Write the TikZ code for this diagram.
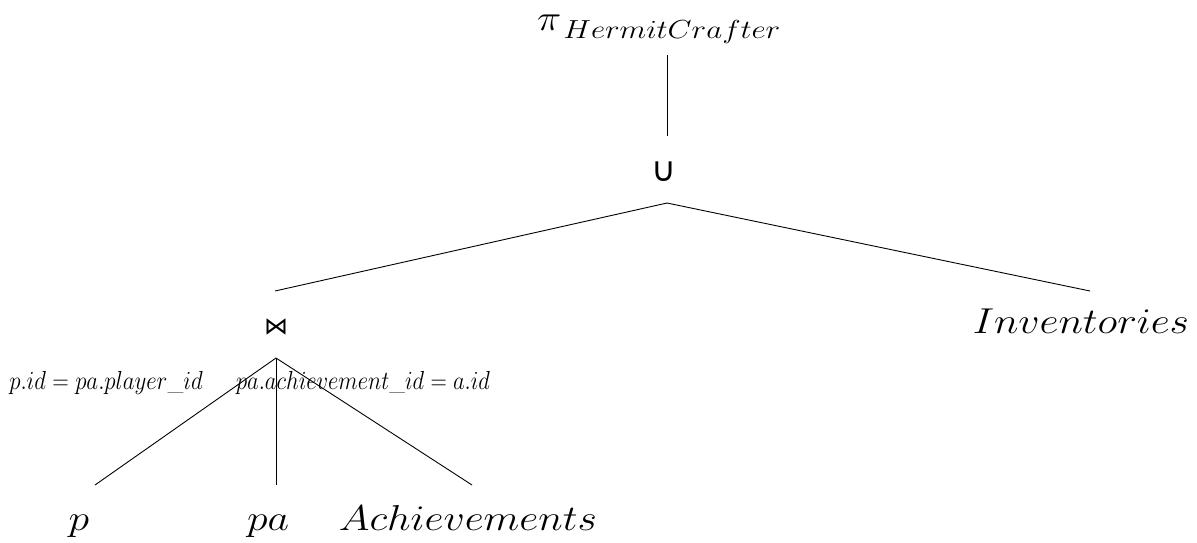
\RequirePackage{fix-cm}
\documentclass[tikz,border=0pt]{standalone}
\usepackage{fontspec}
\newfontfamily\djv{DejaVu Sans}
\begin{document}
\begin{tikzpicture}[x=1pt,y=-1pt,
  edge/.style={draw, line width=0.9pt},
  big/.style={font=\fontsize{36}{42}\selectfont, inner sep=0pt, anchor=base},
  cond/.style={font=\fontsize{24.88}{30}\selectfont, inner sep=0pt, anchor=base}]
\useasboundingbox (0,0) rectangle (1197,542);
\node[anchor=base west, inner sep=0pt, font=\fontsize{24.88}{30}\selectfont] (pi) at (537,30)
  {\scalebox{1.65}[1.45]{$\pi$}\hspace{2pt}\raisebox{-8pt}{\scalebox{1.25}[1.05]{$HermitCrafter$}}};
\node[inner sep=0pt, font=\fontsize{34}{38}\djv] (un) at (664,172) {∪};
\node[inner sep=0pt, font=\fontsize{24}{28}\djv] (jn) at (276,327) {⋈};
\node[big] (inv) at (1081,333) {\scalebox{1.16}[1]{$Inventories$}};
\node[big] (p) at (79,530) {\scalebox{1.16}[1]{$p$}};
\node[big] (pa) at (268,530) {\scalebox{1.16}[1]{$pa$}};
\node[big] (ach) at (468,530) {\scalebox{1.16}[1]{$Achievements$}};
\node[cond] (c1) at (106,389) {\scalebox{0.92}[1.05]{$p.id = pa.player\_id$}};
\node[cond] (c2) at (363,389) {\scalebox{0.91}[1.05]{$pa.achievement\_id = a.id$}};
\coordinate (piB) at (667,55);
\coordinate (unT) at (667,136);
\coordinate (unB) at (667,203);
\coordinate (jnT) at (275,291);
\coordinate (invT) at (1090,291);
\coordinate (jnB) at (276,358);
\coordinate (pT) at (95,485);
\coordinate (paT) at (276,485);
\coordinate (achT) at (472,485);
\draw[edge] (piB) -- (unT);
\draw[edge] (unB) -- (jnT);
\draw[edge] (unB) -- (invT);
\draw[edge] (jnB) -- (pT);
\draw[edge] (jnB) -- (paT);
\draw[edge] (jnB) -- (achT);
\end{tikzpicture}
\end{document}
